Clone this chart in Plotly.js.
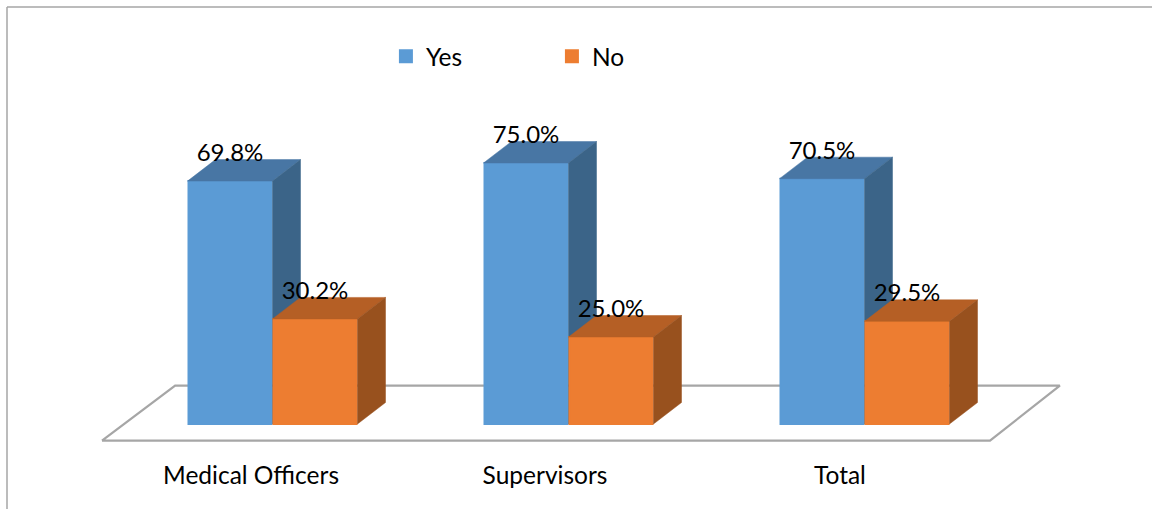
<!DOCTYPE html>
<html>
<head>
<meta charset="utf-8">
<script src="https://cdn.plot.ly/plotly-3.0.1.min.js"></script>
<style>html,body{margin:0;padding:0;background:#fff;overflow:hidden}</style>
</head>
<body>
<div id="chart" style="width:1152px;height:509px"></div>
<script>
const categories = ['Medical Officers', 'Supervisors', 'Total'];
const groupPositions = [0, 1, 2];
const tickPositions = [-0.0726, 0.9206, 1.917];
const yesValues = [69.8, 75.0, 70.5];
const noValues = [30.2, 25.0, 29.5];

const FONT = 'Lato, Carlito, sans-serif';
const barW = 83 / 296, slotW = 85 / 296;
const depthX = 28 / 296, depthY = 21.5 / 3.48;
const labelLift = 26 / 3.48;

function topPoly(values, x0s) {
  const xs = [], ys = [];
  values.forEach((v, i) => {
    const a = x0s[i], b = a + slotW;
    xs.push(a, a + depthX, b + depthX, b, a, null);
    ys.push(v, v + depthY, v + depthY, v, v, null);
  });
  return [xs, ys];
}
function sidePoly(values, x0s) {
  const xs = [], ys = [];
  values.forEach((v, i) => {
    const b = x0s[i] + slotW;
    xs.push(b, b + depthX, b + depthX, b, b, null);
    ys.push(0, depthY, v + depthY, v, 0, null);
  });
  return [xs, ys];
}
function faces(values, x0s, topColor, sideColor, xa, ya) {
  const [tx, ty] = topPoly(values, x0s);
  const [sx, sy] = sidePoly(values, x0s);
  const base = {type: 'scatter', mode: 'lines', fill: 'toself', showlegend: false,
                hoverinfo: 'skip', xaxis: xa, yaxis: ya};
  return [
    Object.assign({}, base, {x: tx, y: ty, fillcolor: topColor, line: {color: topColor, width: 0.5}}),
    Object.assign({}, base, {x: sx, y: sy, fillcolor: sideColor, line: {color: sideColor, width: 0.5}})
  ];
}
const yesLeft = groupPositions.map(p => p - slotW);
const noLeft = groupPositions.slice();

const floorX = [-0.576, 2.424, 2.660, -0.329, -0.576];
const floorY = [-4.8, -4.8, 11.06, 11.06, -4.8];

const traces = [
  {type: 'scatter', mode: 'lines', x: floorX, y: floorY, fill: 'toself', fillcolor: '#ffffff',
   line: {color: '#A6A6A6', width: 2.25}, showlegend: false, hoverinfo: 'skip', xaxis: 'x', yaxis: 'y'},
  {type: 'bar', name: 'Yes', x: groupPositions, y: yesValues, width: barW, offset: -slotW + 1 / 296,
   marker: {color: '#5B9BD5', line: {color: '#5B9BD5', width: 2}}, xaxis: 'x2', yaxis: 'y2'},
  ...faces(yesValues, yesLeft, '#4876A4', '#3B6488', 'x2', 'y2'),
  {type: 'bar', name: 'No', x: groupPositions, y: noValues, width: barW, offset: 1 / 296,
   marker: {color: '#ED7D31', line: {color: '#ED7D31', width: 2}}, xaxis: 'x3', yaxis: 'y3'},
  ...faces(noValues, noLeft, '#B55F25', '#98511E', 'x3', 'y3'),
  {type: 'scatter', mode: 'text', showlegend: false, hoverinfo: 'skip', xaxis: 'x3', yaxis: 'y3',
   x: yesLeft.map(a => a + slotW / 2).concat(noLeft.map(a => a + slotW / 2)),
   y: yesValues.concat(noValues).map(v => v + labelLift),
   text: yesValues.concat(noValues).map(v => v.toFixed(1) + '%'),
   textposition: 'middle center', textfont: {family: FONT, size: 24, color: '#000'}}
];

const xr = [-272.5 / 296, (1152 - 272.5) / 296];
const yr = [-9.77, 121.84];
const hidden = {visible: false, fixedrange: true, showgrid: false, zeroline: false};

const layout = {
  width: 1152, height: 509,
  margin: {l: 0, r: 0, t: 0, b: 51, pad: 0},
  paper_bgcolor: '#fff', plot_bgcolor: 'rgba(0,0,0,0)',
  barmode: 'overlay',
  showlegend: true,
  legend: {orientation: 'h', x: 0.335, xanchor: 'left', y: 0.877, yanchor: 'middle',
           entrywidth: 121, entrywidthmode: 'pixels', traceorder: 'normal',
           font: {family: FONT, size: 24.5, color: '#000'}, bgcolor: 'rgba(0,0,0,0)'},
  xaxis: {range: xr, tickmode: 'array', tickvals: tickPositions, ticktext: categories,
          ticks: '', showgrid: false, zeroline: false, showline: false, fixedrange: true,
          tickangle: 0, tickfont: {family: FONT, size: 24.5, color: '#000'}},
  yaxis: Object.assign({range: yr}, hidden),
  xaxis2: Object.assign({range: xr, overlaying: 'x'}, hidden),
  yaxis2: Object.assign({range: yr, overlaying: 'y'}, hidden),
  xaxis3: Object.assign({range: xr, overlaying: 'x'}, hidden),
  yaxis3: Object.assign({range: yr, overlaying: 'y'}, hidden),
  shapes: [
    {type: 'line', xref: 'paper', yref: 'paper', x0: 7 / 1152, x1: 1, y0: 451 / 458, y1: 451 / 458,
     line: {color: '#A6A6A6', width: 1.5}},
    {type: 'line', xref: 'paper', yref: 'paper', x0: 7 / 1152, x1: 7 / 1152, y0: -51 / 458, y1: 451 / 458,
     line: {color: '#A6A6A6', width: 1.5}}
  ]
};
Plotly.newPlot('chart', traces, layout, {displayModeBar: false, staticPlot: true});
</script>
</body>
</html>
